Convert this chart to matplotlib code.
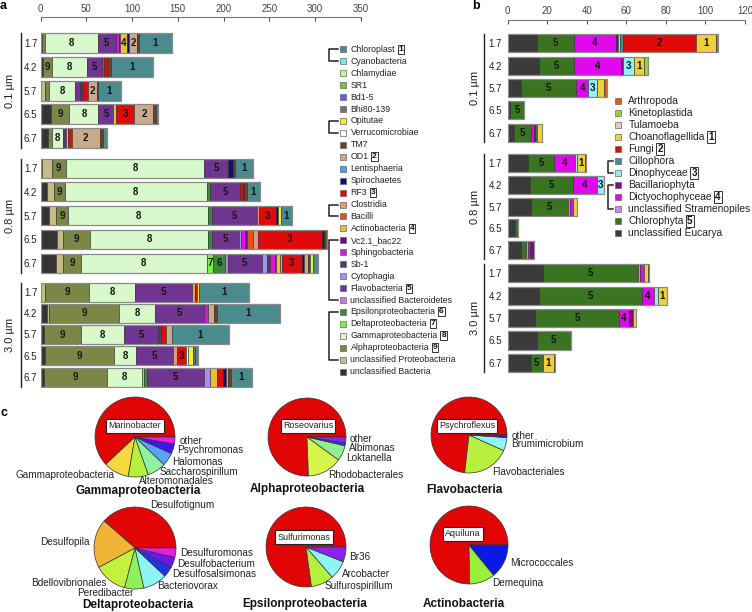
import matplotlib
matplotlib.use("Agg")
import matplotlib.pyplot as plt
from matplotlib.lines import Line2D
from matplotlib.patches import Rectangle

plt.rcParams["font.family"] = ["Liberation Sans", "DejaVu Sans"]

# ---------------- data ----------------
sample_labels = ["1.7", "4.2", "5.7", "6.5", "6.7"]
fractions = ["0.1 µm", "0.8 µm", "3.0 µm"]

# panel a: legend order, top to bottom (bars stack in the reverse order)
bact_legend = ["Chloroplast", "Cyanobacteria", "Chlamydiae", "SR1", "Bd1-5", "Bhi80-139",
               "Opitutae", "Verrucomicrobiae", "TM7", "OD1", "Lentisphaeria", "Spirochaetes",
               "RF3", "Clostridia", "Bacilli", "Actinobacteria", "Vc2.1_bac22", "Sphingobacteria",
               "Sb-1", "Cytophagia", "Flavobacteria", "unclassified Bacteroidetes",
               "Epsilonproteobacteria", "Deltaproteobacteria", "Gammaproteobacteria",
               "Alphaproteobacteria", "unclassified Proteobacteria", "unclassified Bacteria"]
bact_numbers = {"Chloroplast": 1, "OD1": 2, "RF3": 3, "Actinobacteria": 4, "Flavobacteria": 5,
                "Epsilonproteobacteria": 6, "Deltaproteobacteria": 7, "Gammaproteobacteria": 8,
                "Alphaproteobacteria": 9}

bact_01um = [
    {"unclassified Bacteria": 1.4, "Alphaproteobacteria": 3.3, "Gammaproteobacteria": 57.6, "Flavobacteria": 20.0,
     "Sphingobacteria": 2.9, "Vc2.1_bac22": 1.4, "Actinobacteria": 7.6, "Spirochaetes": 2.6, "OD1": 8.7,
     "TM7": 2.2, "Chloroplast": 35.4},
    {"unclassified Bacteria": 2.2, "Alphaproteobacteria": 10.6, "Gammaproteobacteria": 37.5, "Flavobacteria": 16.4,
     "Sphingobacteria": 2.6, "RF3": 2.9, "TM7": 4.7, "Chloroplast": 46.3},
    {"unclassified Proteobacteria": 4.7, "Alphaproteobacteria": 4.7, "Gammaproteobacteria": 28.1, "Flavobacteria": 5.4,
     "Sb-1": 1.9, "Sphingobacteria": 1.9, "RF3": 5.4, "OD1": 9.2, "TM7": 1.0, "Chloroplast": 25.2},
    {"unclassified Bacteria": 10.9, "Alphaproteobacteria": 20.5, "Gammaproteobacteria": 31.8, "Flavobacteria": 16.4,
     "Actinobacteria": 2.9, "RF3": 20.0, "OD1": 20.8, "TM7": 2.9, "Chloroplast": 2.6},
    {"unclassified Bacteria": 8.4, "Alphaproteobacteria": 3.6, "Gammaproteobacteria": 12.8, "Sb-1": 2.6,
     "Actinobacteria": 2.9, "RF3": 3.6, "OD1": 30.9, "TM7": 2.9, "Chloroplast": 4.4},
]
bact_08um = [
    {"unclassified Bacteria": 1.8, "unclassified Proteobacteria": 10.2, "Alphaproteobacteria": 15.7,
     "Gammaproteobacteria": 151.3, "Flavobacteria": 26.2, "Spirochaetes": 4.7, "TM7": 2.6, "Chloroplast": 20.1},
    {"unclassified Bacteria": 6.6, "unclassified Proteobacteria": 8.0, "Alphaproteobacteria": 12.0,
     "Gammaproteobacteria": 154.9, "Epsilonproteobacteria": 3.6, "Flavobacteria": 32.8, "RF3": 2.9,
     "Spirochaetes": 1.5, "TM7": 2.9, "Chloroplast": 14.6},
    {"unclassified Bacteria": 9.5, "unclassified Proteobacteria": 7.3, "Alphaproteobacteria": 13.5,
     "Gammaproteobacteria": 153.1, "Epsilonproteobacteria": 4.4, "Flavobacteria": 48.5, "Clostridia": 2.9,
     "RF3": 18.2, "Spirochaetes": 2.6, "Opitutae": 2.6, "Chloroplast": 12.0},
    {"unclassified Bacteria": 18.2, "unclassified Proteobacteria": 5.9, "Alphaproteobacteria": 29.9,
     "Gammaproteobacteria": 129.4, "Epsilonproteobacteria": 3.6, "Flavobacteria": 30.2, "Cytophagia": 1.9,
     "Sphingobacteria": 4.4, "Vc2.1_bac22": 1.9, "Bacilli": 7.3, "Clostridia": 4.7, "RF3": 70.0,
     "Spirochaetes": 2.7, "TM7": 2.7},
    {"unclassified Bacteria": 16.8, "unclassified Proteobacteria": 8.0, "Alphaproteobacteria": 19.3,
     "Gammaproteobacteria": 137.4, "Deltaproteobacteria": 7.3, "Epsilonproteobacteria": 12.7,
     "unclassified Bacteroidetes": 2.9, "Flavobacteria": 37.2, "Cytophagia": 5.4, "Sb-1": 3.6,
     "Sphingobacteria": 5.4, "Vc2.1_bac22": 1.9, "Actinobacteria": 3.6, "Clostridia": 1.9, "RF3": 21.9,
     "Spirochaetes": 2.6, "OD1": 4.7, "TM7": 1.9, "Opitutae": 2.9, "Chloroplast": 6.2},
]
bact_30um = [
    {"unclassified Proteobacteria": 4.7, "Alphaproteobacteria": 48.5, "Gammaproteobacteria": 49.9,
     "Flavobacteria": 62.7, "Clostridia": 2.9, "RF3": 2.6, "Opitutae": 2.2, "Chloroplast": 54.7},
    {"unclassified Bacteria": 6.6, "unclassified Proteobacteria": 2.6, "Alphaproteobacteria": 76.9,
     "Gammaproteobacteria": 39.0, "Flavobacteria": 54.0, "Sphingobacteria": 4.4, "OD1": 5.5, "TM7": 3.6,
     "Chloroplast": 68.6},
    {"unclassified Bacteria": 3.6, "Alphaproteobacteria": 40.5, "Gammaproteobacteria": 47.4, "Flavobacteria": 37.2,
     "Sb-1": 2.9, "RF3": 5.5, "OD1": 6.2, "Chloroplast": 63.0},
    {"unclassified Bacteria": 4.7, "Alphaproteobacteria": 75.5, "Gammaproteobacteria": 24.1, "Flavobacteria": 40.1,
     "Clostridia": 4.4, "RF3": 10.2, "Verrucomicrobiae": 2.6, "Opitutae": 5.4, "Bhi80-139": 1.9,
     "Chloroplast": 2.9},
    {"unclassified Bacteria": 3.6, "Alphaproteobacteria": 68.6, "Gammaproteobacteria": 38.3,
     "Deltaproteobacteria": 2.6, "Epsilonproteobacteria": 2.9, "Flavobacteria": 62.7, "Cytophagia": 6.9,
     "Actinobacteria": 7.0, "RF3": 6.6, "Spirochaetes": 3.6, "OD1": 2.6, "TM7": 2.6, "Chloroplast": 22.9},
]

# panel b
euk_legend = ["Arthropoda", "Kinetoplastida", "Tulamoeba", "Choanoflagellida", "Fungi", "Cillophora",
              "Dinophyceae", "Bacillariophyta", "Dictyochophyceae", "unclassified Stramenopiles",
              "Chlorophyta", "unclassified Eucarya"]
euk_numbers = {"Choanoflagellida": 1, "Fungi": 2, "Dinophyceae": 3, "Dictyochophyceae": 4, "Chlorophyta": 5}

euk_01um = [
    {"unclassified Eucarya": 14.7, "Chlorophyta": 18.6, "Dictyochophyceae": 21.4, "Bacillariophyta": 1.0,
     "Dinophyceae": 1.2, "Cillophora": 1.2, "Fungi": 37.3, "Choanoflagellida": 10.0, "Arthropoda": 0.8},
    {"unclassified Eucarya": 15.9, "Chlorophyta": 17.4, "Dictyochophyceae": 24.0, "Bacillariophyta": 0.8,
     "Dinophyceae": 5.6, "Choanoflagellida": 5.4, "Kinetoplastida": 1.7},
    {"unclassified Eucarya": 6.6, "Chlorophyta": 28.0, "Dictyochophyceae": 6.2, "Dinophyceae": 4.2,
     "Choanoflagellida": 3.5, "Arthropoda": 1.6},
    {"unclassified Eucarya": 1.2, "Chlorophyta": 7.1},
    {"unclassified Eucarya": 3.4, "Chlorophyta": 8.4, "Dictyochophyceae": 1.7, "Bacillariophyta": 0.7,
     "Dinophyceae": 0.8, "Choanoflagellida": 2.2},
]
euk_08um = [
    {"unclassified Eucarya": 10.5, "Chlorophyta": 12.7, "Dictyochophyceae": 11.0, "Dinophyceae": 0.8,
     "Choanoflagellida": 4.2, "Arthropoda": 0.5},
    {"unclassified Eucarya": 11.3, "Chlorophyta": 21.9, "Dictyochophyceae": 11.8, "Dinophyceae": 3.9},
    {"unclassified Eucarya": 11.6, "Chlorophyta": 19.1, "unclassified Stramenopiles": 0.8,
     "Dictyochophyceae": 1.7, "Choanoflagellida": 1.7, "Arthropoda": 0.3},
    {"unclassified Eucarya": 3.7, "Chlorophyta": 1.2, "Choanoflagellida": 0.5},
    {"unclassified Eucarya": 6.6, "Chlorophyta": 2.7, "unclassified Stramenopiles": 1.2,
     "Dictyochophyceae": 0.7, "Bacillariophyta": 2.2},
]
euk_30um = [
    {"unclassified Eucarya": 17.7, "Chlorophyta": 48.4, "Dictyochophyceae": 2.2, "unclassified Stramenopiles": 0.7,
     "Choanoflagellida": 2.2, "Arthropoda": 0.3},
    {"unclassified Eucarya": 15.9, "Chlorophyta": 52.0, "Dictyochophyceae": 5.9, "Dinophyceae": 2.0,
     "Choanoflagellida": 4.7},
    {"unclassified Eucarya": 13.8, "Chlorophyta": 42.7, "Dictyochophyceae": 4.6, "Bacillariophyta": 2.5,
     "Choanoflagellida": 1.4},
    {"unclassified Eucarya": 14.7, "Chlorophyta": 17.2},
    {"unclassified Eucarya": 11.6, "Chlorophyta": 6.1, "Choanoflagellida": 5.9, "Arthropoda": 0.3},
]

# panel c: pie shares (%), counter-clockwise from 3 o'clock
gamma_names = ["Marinobacter", "Gammaproteobacteria", "Alteromonadales", "Saccharospirillum",
               "Halomonas", "Psychromonas", "other"]
gamma_share = [62.0, 10.3, 8.1, 7.5, 5.3, 4.0, 2.8]
alpha_names = ["Roseovarius", "Rhodobacterales", "Loktanella", "Albimonas", "other"]
alpha_share = [75.6, 14.4, 6.4, 1.1, 2.5]
flavo_names = ["Psychroflexus", "Flavobacteriales", "Brumimicrobium", "other"]
flavo_share = [73.2, 20.1, 5.6, 1.1]
delta_names = ["Desulfotignum", "Desulfopila", "Bdellovibrionales", "Peredibacter", "Bacteriovorax",
               "Desulfosalsimonas", "Desulfobacterium", "Desulfuromonas"]
delta_share = [38.6, 19.3, 13.1, 7.6, 9.5, 4.2, 4.1, 3.7]
epsilon_names = ["Sulfurimonas", "Sulfurospirillum", "Arcobacter", "Br36"]
epsilon_share = [77.2, 9.2, 7.6, 6.0]
actino_names = ["Aquiluna", "Demequina", "Micrococcales"]
actino_share = [75.3, 10.6, 14.1]

# ---------------- colours ----------------
bact_colors = {
    "Chloroplast": "#4b8b8e", "Cyanobacteria": "#86e3ea", "Chlamydiae": "#d3ea96", "SR1": "#7fc043",
    "Bd1-5": "#6a5fcf", "Bhi80-139": "#717171", "Opitutae": "#f2ef35", "Verrucomicrobiae": "#ffffff",
    "TM7": "#6e4127", "OD1": "#c8ab8a", "Lentisphaeria": "#4ea3e2", "Spirochaetes": "#10116b",
    "RF3": "#e10a0a", "Clostridia": "#e39a7b", "Bacilli": "#e0561e", "Actinobacteria": "#e3c13e",
    "Vc2.1_bac22": "#6b0b7c", "Sphingobacteria": "#e010e6", "Sb-1": "#47406f", "Cytophagia": "#a391ee",
    "Flavobacteria": "#6f3590", "unclassified Bacteroidetes": "#c77ae3", "Epsilonproteobacteria": "#3d8a3e",
    "Deltaproteobacteria": "#7ff04a", "Gammaproteobacteria": "#d8f9cb", "Alphaproteobacteria": "#7a8747",
    "unclassified Proteobacteria": "#c6bd86", "unclassified Bacteria": "#343434",
}
euk_colors = {
    "Arthropoda": "#df5a22", "Kinetoplastida": "#93d248", "Tulamoeba": "#f2c4cb",
    "Choanoflagellida": "#efd03c", "Fungi": "#e10a0a", "Cillophora": "#4b8b8e", "Dinophyceae": "#92f1f7",
    "Bacillariophyta": "#7d0b82", "Dictyochophyceae": "#e008ee", "unclassified Stramenopiles": "#cf84ef",
    "Chlorophyta": "#3b7421", "unclassified Eucarya": "#3a3a3a",
}
RED = "#e00404"
gamma_colors = [RED, "#f4d83e", "#b6f03c", "#8ef29e", "#5aa2f5", "#3c16ee", "#e41ee6"]
alpha_colors = [RED, "#d6f54a", "#8ef08e", "#2040ee", "#8a22f0"]
flavo_colors = [RED, "#b6f03c", "#8ef5f5", "#3c16ee"]
delta_colors = [RED, "#f0b436", "#c4f03e", "#90f05a", "#8ef5f5", "#2034e4", "#6a18ee", "#e41ee6"]
epsilon_colors = [RED, "#b6f03c", "#8ef5f5", "#8a22f0"]
actino_colors = [RED, "#98f03c", "#0c18e4"]

# ---------------- helpers (pixel layout) ----------------
W, H = 752, 612
fig = plt.figure(figsize=(W / 100, H / 100), dpi=100)
renderer = fig.canvas.get_renderer()


def fx(x):
    return x / W


def fy(y):
    return 1 - y / H


def px_rect(x0, y0, x1, y1):
    return [fx(x0), fy(y1), (x1 - x0) / W, (y1 - y0) / H]


def ftext(x, y, s, **kw):
    return fig.text(fx(x), fy(y), s, **kw)


def fline(xs, ys, **kw):
    fig.add_artist(Line2D([fx(x) for x in xs], [fy(y) for y in ys], transform=fig.transFigure, **kw))


def stacked_panel(groups, legend, colors, numbers, x0, x1, xmax, xticks, layout, axis_y,
                  thresh, line_x, label_x, row_pad):
    taxa = legend[::-1]
    for g, (rows, (yc, step, bh)) in enumerate(zip(groups, layout)):
        top = axis_y if g == 0 else yc - step / 2
        ax = fig.add_axes(px_rect(x0, top, x1, yc + 4.5 * step))
        ax.set_xlim(0, xmax)
        ax.set_ylim(4.5, -0.5 - (yc - step / 2 - top) / step)
        h = bh / step
        for i, row in enumerate(rows):
            left = 0
            for t in taxa:
                v = row.get(t, 0)
                if not v:
                    continue
                ax.barh(i, v, left=left, height=h, color=colors[t], edgecolor="#2a2a2a", linewidth=0.4)
                if t in numbers and v >= thresh:
                    ax.text(left + v / 2, i, str(numbers[t]), ha="center", va="center",
                            fontsize=7, fontweight="bold", color="#151515")
                left += v
            ax.barh(i, left, height=h, fill=False, edgecolor="#8a8a8a", linewidth=0.9)
        ax.set_yticks(range(5), sample_labels)
        ax.tick_params(axis="y", length=0, pad=row_pad, labelsize=7, labelcolor="#222222")
        for s in ["left", "right", "bottom"]:
            ax.spines[s].set_visible(False)
        if g == 0:
            ax.xaxis.tick_top()
            ax.set_xticks(xticks)
            ax.tick_params(axis="x", direction="in", length=3, width=0.7, labelsize=7,
                           colors="#444444", pad=2.5)
            ax.spines["top"].set_color("#777777")
        else:
            ax.spines["top"].set_visible(False)
            ax.set_xticks([])
        fline([line_x, line_x], [yc - bh / 2, yc + 4 * step + bh / 2], color="#222222", lw=1.0)
        ftext(label_x, yc + 2 * step, fractions[g], rotation=90, ha="center", va="center",
              fontsize=8, color="#222222")


def legend_column(names, colors, numbers, x_mark, x_text, y0, dy, fs, msize, brackets, bx):
    for i, name in enumerate(names):
        y = y0 + i * dy
        fig.add_artist(Rectangle((fx(x_mark), fy(y + msize / 2)), msize / W, msize / H,
                                 transform=fig.transFigure, facecolor=colors[name],
                                 edgecolor="#666666", linewidth=0.5))
        t = ftext(x_text, y, name, fontsize=fs, ha="left", va="center", color="#222222")
        if name in numbers:
            bb = t.get_window_extent(renderer)
            fig.text((bb.x1 + 3.5) / W, fy(y), str(numbers[name]), fontsize=fs - 0.3, fontweight="bold",
                     ha="left", va="center", color="#111111",
                     bbox=dict(boxstyle="square,pad=0.12", fc="white", ec="#333333", lw=0.7))
    for a, b in brackets:
        ya, yb = y0 + a * dy, y0 + b * dy
        fline([x_mark - 2, bx, bx, x_mark - 2], [ya, ya, yb, yb], color="#222222", lw=1.1)


def pie(cx, cy, r, shares, colors):
    ax = fig.add_axes(px_rect(cx - r, cy - r, cx + r, cy + r))
    ax.pie(shares, colors=colors, startangle=0, counterclock=True, radius=1,
           wedgeprops=dict(edgecolor="#333333", linewidth=0.5))
    ax.set_xlim(-1, 1)
    ax.set_ylim(-1, 1)


def pie_labels(cx, cy, names, offsets, box=None):
    for name, (dx, dy, ha) in zip(names, offsets):
        ftext(cx + dx, cy + dy, name, fontsize=7.2, ha=ha, va="center", color="#222222")
    if box:
        ftext(cx + box[1], cy + box[2], box[0], fontsize=6.5, ha="center", va="center", color="#222222",
              bbox=dict(boxstyle="square,pad=0.25", fc="white", ec="#222222", lw=0.8))


# ---------------- panel a ----------------
stacked_panel([bact_01um, bact_08um, bact_30um], bact_legend, bact_colors, bact_numbers,
              x0=40.7, x1=360.7, xmax=350, xticks=range(0, 351, 50),
              layout=[(43.3, 23.7, 20), (168, 23.75, 19), (292, 21.25, 19)], axis_y=17,
              thresh=7.2, line_x=20.7, label_x=10, row_pad=2.5)
legend_column(bact_legend, bact_colors, bact_numbers, x_mark=340, x_text=350.5, y0=49.3, dy=11.94,
              fs=6.3, msize=6, brackets=[(0, 1), (6, 7), (13, 14), (16, 21), (22, 26)], bx=329)

# ---------------- panel b ----------------
stacked_panel([euk_01um, euk_08um, euk_30um], euk_legend, euk_colors, euk_numbers,
              x0=507.7, x1=745, xmax=120, xticks=range(0, 121, 20),
              layout=[(43.3, 22.35, 18.3), (163.3, 21.7, 18), (273.3, 22.35, 18.3)], axis_y=19.7,
              thresh=3.8, line_x=484, label_x=475, row_pad=4.3)
legend_column(euk_legend, euk_colors, euk_numbers, x_mark=615, x_text=628.3, y0=101, dy=12.03,
              fs=7.4, msize=6, brackets=[(5, 6), (7, 9)], bx=607.5)

# ---------------- panel c ----------------
pie(135, 437, 40, gamma_share, gamma_colors)
pie_labels(135, 437, gamma_names[1:],
           [(-20, 38, "right"), (4.3, 44, "left"), (25, 34.7, "left"), (36.7, 25.3, "left"),
            (41.7, 13, "left"), (45, 3.7, "left")], box=("Marinobacter", 0, -11))
pie(307, 437, 39, alpha_share, alpha_colors)
pie_labels(307, 437, alpha_names[1:],
           [(21.3, 38, "left"), (39, 20.7, "left"), (42.3, 11.3, "left"), (43, 2.3, "left")],
           box=("Roseovarius", 1, -11))
pie(469, 435, 38, flavo_share, flavo_colors)
pie_labels(469, 435, flavo_names[1:],
           [(22.7, 36.7, "left"), (41.7, 9.3, "left"), (42.7, 0.7, "left")],
           box=("Psychroflexus", -2, -9))
pie(135, 548, 41, delta_share, delta_colors)
pie_labels(135, 548, delta_names,
           [(15, -43, "left"), (-45, -5.7, "right"), (-28.3, 35.3, "right"), (-58.3, 44.7, "left"),
            (22.3, 37.7, "left"), (36.7, 26, "left"), (41.7, 16, "left"), (45, 5.3, "left")])
pie(306, 547, 40, epsilon_share, epsilon_colors)
pie_labels(306, 547, epsilon_names[1:],
           [(19, 39, "left"), (35.7, 27, "left"), (43.3, 9.7, "left")],
           box=("Sulfurimonas", -2, -10))
pie(469, 545, 39, actino_share, actino_colors)
pie_labels(469, 545, actino_names[1:],
           [(22.7, 38.3, "left"), (41, 18.3, "left")], box=("Aquiluna", -6, -11))

for x, y, s in [(138.5, 491, "Gammaproteobacteria"), (307, 489, "Alphaproteobacteria"),
                (464, 490, "Flavobacteria"), (138, 605, "Deltaproteobacteria"),
                (305, 604, "Epsilonproteobacteria"), (464, 604, "Actinobacteria")]:
    ftext(x, y, s, fontsize=8.5, fontweight="bold", ha="center", va="center", color="#111111")

# panel letters
ftext(3, 6, "a", fontsize=9, fontweight="bold", ha="center", va="center")
ftext(476, 6, "b", fontsize=9, fontweight="bold", ha="center", va="center")
ftext(4, 413, "c", fontsize=9, fontweight="bold", ha="center", va="center")

fig.savefig("out.png", dpi=100, facecolor="white")
